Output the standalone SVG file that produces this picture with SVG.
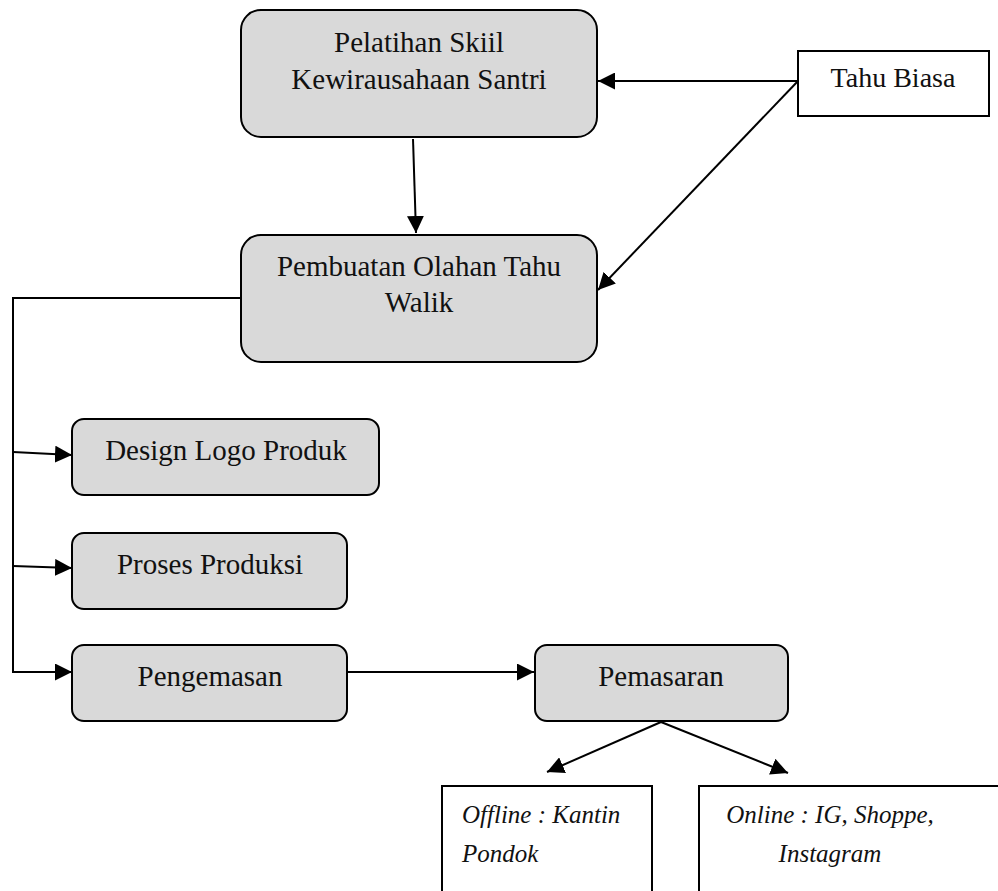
<svg xmlns="http://www.w3.org/2000/svg" width="998" height="891" viewBox="0 0 998 891">
<style>
.rbox{fill:#d9d9d9;stroke:#000;stroke-width:2}
.box{fill:#fff;stroke:#000;stroke-width:2}
.t{font-family:"Liberation Serif","DejaVu Serif",serif;font-size:29px;fill:#111;text-anchor:middle}
.it{font-style:italic;font-size:25px}
.s{text-anchor:start}
.c{fill:none;stroke:#000;stroke-width:2}
</style>
<defs>
<marker id="ahl" viewBox="0 0 10 10" refX="10" refY="5" markerWidth="17" markerHeight="17" markerUnits="userSpaceOnUse" orient="auto">
<path d="M0,0 L10,5 L0,10 Z" fill="#000"/>
</marker>
</defs>
<g id="connectors">
<line class="c" x1="798" y1="81" x2="598" y2="81" marker-end="url(#ahl)"/>
<line class="c" x1="798" y1="81" x2="598" y2="290" marker-end="url(#ahl)"/>
<line class="c" x1="413" y1="139" x2="416" y2="233" marker-end="url(#ahl)"/>
<polyline class="c" points="241,298 13,298 13,672 72,672" marker-end="url(#ahl)"/>
<line class="c" x1="13" y1="452" x2="72" y2="455" marker-end="url(#ahl)"/>
<line class="c" x1="13" y1="566" x2="72" y2="568" marker-end="url(#ahl)"/>
<line class="c" x1="347" y1="672" x2="534" y2="672" marker-end="url(#ahl)"/>
<line class="c" x1="661" y1="722" x2="547" y2="772" marker-end="url(#ahl)"/>
<line class="c" x1="661" y1="722" x2="788" y2="773" marker-end="url(#ahl)"/>
</g>
<g id="pelatihan">
<rect class="rbox" x="241" y="10" width="356" height="127" rx="20"/>
<text class="t" x="419" y="52">Pelatihan Skiil</text>
<text class="t" x="419" y="89">Kewirausahaan Santri</text>
</g>
<g id="tahu-biasa">
<rect class="box" x="798" y="51" width="191" height="65"/>
<text class="t" x="893" y="87" style="font-size:28px">Tahu Biasa</text>
</g>
<g id="pembuatan">
<rect class="rbox" x="241" y="235" width="356" height="127" rx="20"/>
<text class="t" x="419" y="276">Pembuatan Olahan Tahu</text>
<text class="t" x="419" y="312">Walik</text>
</g>
<g id="design">
<rect class="rbox" x="72" y="419" width="307" height="76" rx="12"/>
<text class="t" x="226" y="460">Design Logo Produk</text>
</g>
<g id="proses">
<rect class="rbox" x="72" y="533" width="275" height="76" rx="12"/>
<text class="t" x="210" y="574">Proses Produksi</text>
</g>
<g id="pengemasan">
<rect class="rbox" x="72" y="645" width="275" height="76" rx="12"/>
<text class="t" x="210" y="686">Pengemasan</text>
</g>
<g id="pemasaran">
<rect class="rbox" x="535" y="645" width="253" height="76" rx="12"/>
<text class="t" x="661" y="686">Pemasaran</text>
</g>
<g id="offline">
<rect class="box" x="442" y="786" width="210" height="120"/>
<text class="t it s" x="462" y="823">Offline : Kantin</text>
<text class="t it s" x="462" y="862">Pondok</text>
</g>
<g id="online">
<rect class="box" x="699" y="786" width="310" height="120"/>
<text class="t it" x="830" y="823">Online : IG, Shoppe,</text>
<text class="t it" x="830" y="862">Instagram</text>
</g>
</svg>
